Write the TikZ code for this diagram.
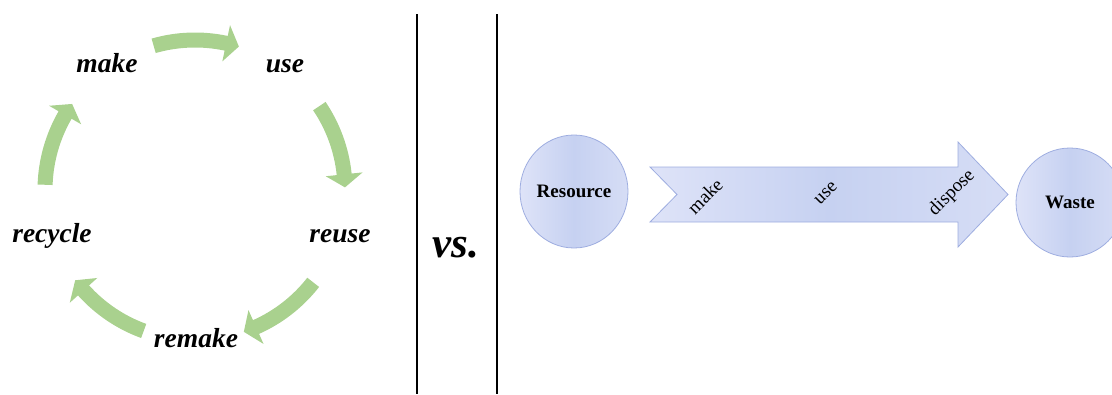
\documentclass[tikz,border=0pt]{standalone}
\usepackage{fontspec}
\setmainfont{Liberation Serif}
\usetikzlibrary{shapes.geometric}
\definecolor{leafgreen}{RGB}{169,209,142}
\definecolor{lavL}{RGB}{222,227,248}
\definecolor{lavM}{RGB}{198,209,241}
\definecolor{lavR}{RGB}{214,221,245}
\definecolor{lavEdge}{RGB}{158,173,224}
\tikzset{
  cyclelabel/.style={font=\fontsize{27.5}{30}\selectfont\bfseries\itshape, anchor=base, inner sep=0pt},
  stagelabel/.style={font=\fontsize{19}{21}\selectfont, rotate=45, inner sep=0pt},
  poolnode/.style={ellipse, draw=lavEdge, line width=0.8pt, left color=lavL, right color=lavR, middle color=lavM,
    font=\fontsize{19}{21}\selectfont\bfseries, inner sep=0pt},
  divider/.style={line width=2pt, draw=black},
  flowarrow/.style={draw=lavEdge, line width=0.8pt, left color=lavL, right color=lavR, middle color=lavM},
  vslabel/.style={font=\fontsize{43}{46}\selectfont\bfseries\itshape, anchor=base, inner sep=0pt},
}
\newcommand{\cyclearrow}[3]{%
  \fill[leafgreen] (#1:157.5) arc[start angle=#1, end angle=#2, radius=157.5]
    -- (#2:168.5) -- (#3:150) -- (#2:131.5) -- (#2:142.5)
    arc[start angle=#2, end angle=#1, radius=142.5] -- cycle;}
\begin{document}
\begin{tikzpicture}[x=1pt,y=-1pt]
\useasboundingbox (0,0) rectangle (1112,394);
% circular economy
\begin{scope}[shift={(195,190)}, yscale=-1]
  \cyclearrow{106}{78}{73}
  \cyclearrow{34}{6}{1}
  \cyclearrow{-38}{-66}{-71}
  \cyclearrow{-110}{-138}{-143}
  \cyclearrow{-182}{-210}{-215}
\end{scope}
\node[cyclelabel] (make) at (107,72) {make};
\node[cyclelabel] (use) at (285,72) {use};
\node[cyclelabel] (reuse) at (340,242) {reuse};
\node[cyclelabel] (remake) at (196,347) {remake};
\node[cyclelabel] (recycle) at (52,242) {recycle};
% dividers
\coordinate (d1t) at (417,14); \coordinate (d1b) at (417,394);
\coordinate (d2t) at (497,14); \coordinate (d2b) at (497,394);
\draw[divider] (d1t) -- (d1b);
\draw[divider] (d2t) -- (d2b);
\node[vslabel] (vs) at (456,257) {vs.};
% linear economy
\node[poolnode, minimum width=108pt, minimum height=113pt] (resource) at (574,191.5) {Resource};
\node[poolnode, minimum width=108pt, minimum height=109pt] (waste) at (1070,202.5) {Waste};
\path[flowarrow] (650,167) -- (958,167) -- (958,142) -- (1008,194.5) -- (958,247)
  -- (958,222) -- (650,222) -- (677,194.5) -- cycle;
\node[stagelabel] (lmake) at (705,196) {make};
\node[stagelabel] (luse) at (826,193) {use};
\node[stagelabel] (ldispose) at (952,193) {dispose};
\end{tikzpicture}
\end{document}
